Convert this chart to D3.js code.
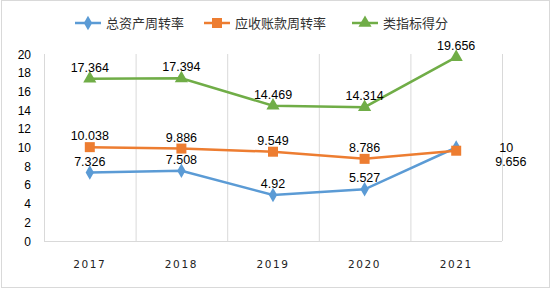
<!DOCTYPE html>
<html lang="zh">
<head>
<meta charset="UTF-8">
<title>周转率</title>
<script src="https://d3js.org/d3.v7.min.js"></script>
<style>
  body { margin: 0; background: #fff; font-family: "Noto Sans CJK SC", "Liberation Sans", sans-serif; }
  svg { display: block; }
</style>
</head>
<body>
<svg id="chart" width="555" height="292"></svg>
<script>
const years = ["2017", "2018", "2019", "2020", "2021"];
const totalAssetTurnover = [7.326, 7.508, 4.92, 5.527, 10];
const receivableTurnover = [10.038, 9.886, 9.549, 8.786, 9.656];
const indexScore = [17.364, 17.394, 14.469, 14.314, 19.656];
const yTicks = [0, 2, 4, 6, 8, 10, 12, 14, 16, 18, 20];

const series = [
  { name: "总资产周转率", values: totalAssetTurnover, color: "#5B9BD5", marker: d3.symbolDiamond, size: 60 },
  { name: "应收账款周转率", values: receivableTurnover, color: "#ED7D31", marker: d3.symbolSquare, size: 100 },
  { name: "类指标得分", values: indexScore, color: "#70AD47", marker: d3.symbolTriangle, size: 75 }
];

const svg = d3.select("#chart");
const plotLeft = 44, plotRight = 502, plotTop = 54, plotBottom = 241;

// outer frame
svg.append("rect").attr("x", 1.5).attr("y", 0.5).attr("width", 548).attr("height", 287)
  .attr("fill", "#fff").attr("stroke", "#d9d9d9");

const x = d3.scaleBand().domain(years).range([plotLeft, plotRight]);
const y = d3.scaleLinear().domain([0, 20]).range([plotBottom, plotTop]);

// vertical grid lines at category boundaries
const bounds = years.map(d => x(d)).concat([plotRight]);
svg.append("g").selectAll("line").data(bounds).join("line")
  .attr("x1", d => d + 0.5).attr("x2", d => d + 0.5)
  .attr("y1", plotTop).attr("y2", plotBottom)
  .attr("stroke", "#d9d9d9");

svg.append("line").attr("x1", plotLeft).attr("x2", plotRight)
  .attr("y1", plotBottom + 0.5).attr("y2", plotBottom + 0.5).attr("stroke", "#d9d9d9");

// y tick labels
svg.append("g").selectAll("text").data(yTicks).join("text")
  .attr("x", 31).attr("y", d => y(d) + 4.5)
  .attr("text-anchor", "end").attr("font-size", 12).attr("fill", "#000")
  .attr("font-family", "Liberation Sans, sans-serif")
  .text(d => d);

// x labels
svg.append("g").selectAll("text").data(years).join("text")
  .attr("x", d => x(d) + x.bandwidth() / 2).attr("y", 268)
  .attr("text-anchor", "middle").attr("font-size", 10.5).attr("letter-spacing", 1.6)
  .attr("font-family", "DejaVu Sans, sans-serif").attr("fill", "#222")
  .text(d => d);

const cx = d => x(d) + x.bandwidth() / 2;
const line = d3.line().x((d, i) => cx(years[i])).y(d => y(d));

series.forEach(s => {
  svg.append("path").datum(s.values).attr("d", line)
    .attr("fill", "none").attr("stroke", s.color).attr("stroke-width", 2.5);
  svg.append("g").selectAll("path").data(s.values).join("path")
    .attr("transform", (d, i) => `translate(${cx(years[i])},${y(d)})`)
    .attr("d", d3.symbol().type(s.marker).size(s.size))
    .attr("fill", s.color);
});

// data labels
const lbl = svg.append("g").attr("font-size", 12.5).attr("fill", "#000")
  .attr("font-family", "Liberation Sans, sans-serif");
series.forEach((s, si) => {
  s.values.forEach((v, i) => {
    let tx = cx(years[i]), ty = y(v) - 7, anchor = "middle";
    if (i === 4 && si === 0) { tx = cx(years[i]) + 43; ty = y(v) + 4; anchor = "start"; }
    if (i === 4 && si === 1) { tx = cx(years[i]) + 39; ty = y(v) + 15; anchor = "start"; }
    lbl.append("text").attr("x", tx).attr("y", ty).attr("text-anchor", anchor).text(v);
  });
});

// legend
const legendX = [75, 204, 352];
const lg = svg.append("g");
series.forEach((s, i) => {
  const g = lg.append("g").attr("transform", `translate(${legendX[i]},23)`);
  g.append("line").attr("x1", 0).attr("x2", 26).attr("stroke", s.color).attr("stroke-width", 2.5);
  g.append("path").attr("transform", "translate(13,0)")
    .attr("d", d3.symbol().type(s.marker).size(s.size)).attr("fill", s.color);
  g.append("text").attr("x", 31).attr("y", 5).attr("font-size", 13).attr("fill", "#333").text(s.name);
});
</script>
</body>
</html>
